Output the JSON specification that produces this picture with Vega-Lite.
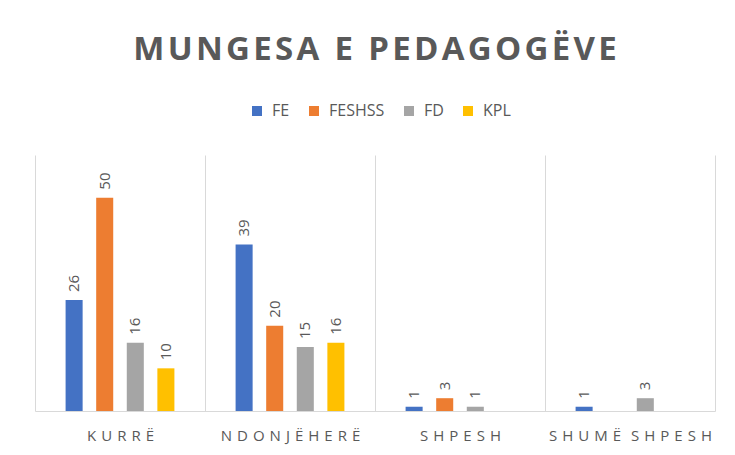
{
  "$schema": "https://vega.github.io/schema/vega-lite/v6.json",
  "width": 680,
  "height": 256,
  "autosize": {"type": "none"},
  "padding": {"left": 35, "top": 155, "right": 20, "bottom": 44},
  "background": "white",
  "config": {"view": {"stroke": null}},
  "title": {
    "text": {"expr": "join(split('MUNGESA E PEDAGOGËVE', ''), '\u200a')"},
    "font": "Open Sans",
    "fontSize": 33,
    "fontWeight": "bold",
    "color": "#595959",
    "anchor": "middle",
    "frame": "group",
    "baseline": "alphabetic",
    "offset": 10
  },
  "data": {
    "values": [
      {"kategoria": "KURRË", "grupi": "FE", "vlera": 26},
      {"kategoria": "KURRË", "grupi": "FESHSS", "vlera": 50},
      {"kategoria": "KURRË", "grupi": "FD", "vlera": 16},
      {"kategoria": "KURRË", "grupi": "KPL", "vlera": 10},
      {"kategoria": "NDONJËHERË", "grupi": "FE", "vlera": 39},
      {"kategoria": "NDONJËHERË", "grupi": "FESHSS", "vlera": 20},
      {"kategoria": "NDONJËHERË", "grupi": "FD", "vlera": 15},
      {"kategoria": "NDONJËHERË", "grupi": "KPL", "vlera": 16},
      {"kategoria": "SHPESH", "grupi": "FE", "vlera": 1},
      {"kategoria": "SHPESH", "grupi": "FESHSS", "vlera": 3},
      {"kategoria": "SHPESH", "grupi": "FD", "vlera": 1},
      {"kategoria": "SHUMË SHPESH", "grupi": "FE", "vlera": 1},
      {"kategoria": "SHUMË SHPESH", "grupi": "FD", "vlera": 3}
    ]
  },
  "encoding": {
    "x": {
      "field": "kategoria",
      "type": "nominal",
      "sort": ["KURRË", "NDONJËHERË", "SHPESH", "SHUMË SHPESH"],
      "scale": {"paddingInner": 0, "paddingOuter": 0},
      "axis": {
        "title": null,
        "labelAngle": 0,
        "tickBand": "extent",
        "ticks": false,
        "grid": true,
        "gridColor": "#d9d9d9",
        "gridWidth": 1,
        "domainColor": "#d9d9d9",
        "domainWidth": 1,
        "labelPadding": 17,
        "labelFont": "Open Sans",
        "labelFontSize": 15,
        "labelColor": "#595959",
        "labelExpr": "replace(join(split(datum.label, ''), '\u2004'), '\u2004 \u2004', '\u2004\u2004')"
      }
    },
    "xOffset": {
      "field": "grupi",
      "type": "nominal",
      "scale": {"domain": ["FE", "FESHSS", "FD", "KPL"], "paddingInner": 0.443, "paddingOuter": 1.18}
    },
    "y": {
      "field": "vlera",
      "type": "quantitative",
      "scale": {"domain": [0, 60], "nice": false},
      "axis": null
    }
  },
  "layer": [
    {
      "mark": {"type": "bar"},
      "encoding": {
        "color": {
          "field": "grupi",
          "type": "nominal",
          "scale": {"domain": ["FE", "FESHSS", "FD", "KPL"], "range": ["#4472C4", "#ED7D31", "#A5A5A5", "#FFC000"]},
          "legend": {
            "title": null,
            "orient": "none",
            "direction": "horizontal",
            "legendX": 214,
            "legendY": -52,
            "symbolType": "square",
            "symbolSize": 100,
            "symbolStrokeWidth": 0,
            "labelFont": "Open Sans",
            "labelFontSize": 16,
            "labelColor": "#595959",
            "labelOffset": 7,
            "columnPadding": 16
          }
        }
      }
    },
    {
      "mark": {"type": "text", "angle": 270, "align": "left", "baseline": "middle", "dx": 8, "font": "Open Sans", "fontSize": 15, "color": "#595959"},
      "encoding": {"text": {"field": "vlera", "type": "quantitative"}}
    }
  ]
}
